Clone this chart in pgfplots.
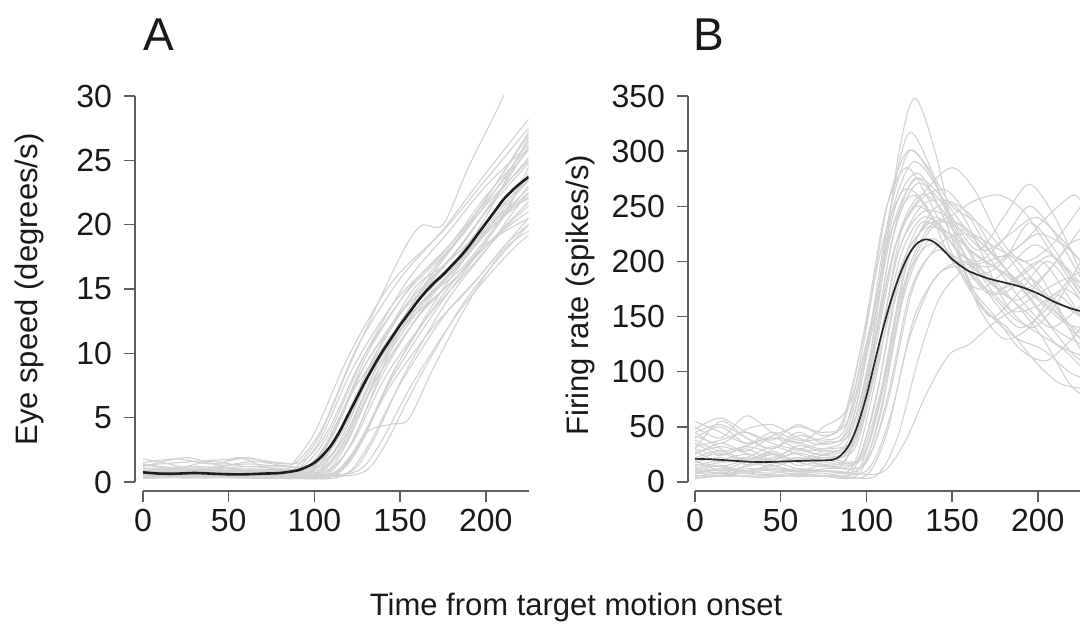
\documentclass[border=0pt]{standalone}
\usepackage{pgfplots}
\pgfplotsset{compat=1.18}
\usepackage{fontspec}
\setmainfont{Liberation Sans}
\definecolor{tr}{RGB}{210,210,210}
\definecolor{axc}{RGB}{95,95,95}
\definecolor{txt}{RGB}{25,25,25}
\pgfplotsset{
  panel/.style={
    scale only axis, anchor=south west,
    axis x line*=bottom, axis y line*=left,
    axis line style={axc, line width=0.75pt},
    tick style={axc, line width=0.75pt},
    tick align=outside, major tick length=5.5pt,
    xtick={0,50,100,150,200},
    tick label style={font=\fontsize{16}{19}\selectfont, text=txt},
    yticklabel style={xshift=-2.5pt},
    /pgf/number format/assume math mode=true,
    height=197.5pt,
    clip=true,
  },
  trace/.style={tr, line width=0.55pt, smooth, no markers},
}
\begin{document}
\begin{tikzpicture}
% ---------------- Panel A ----------------
\begin{axis}[panel,
  at={(67.5pt,66pt)}, width=196.8pt,
  xmin=-4.7, xmax=225, ymin=-0.7, ymax=30,
  ytick={0,5,...,30},
  x axis line style={shorten <=4pt},
  y axis line style={shorten <=4.5pt},
  every axis y label/.style={at={(axis description cs:-0.267,0.51)}, rotate=90, anchor=center, font=\fontsize{15.5}{18}\selectfont, text=txt},
  ylabel={Eye speed (degrees/s)},
]
\addplot[trace] coordinates {(0,1.1)(30,0.9)(60,1.2)(80,1.0)(85,1.1)(100,3.8)(120,9.8)(145,15.5)(175,19.5)(200,23.5)(225,27.5)};
\addplot[trace] coordinates {(0,0.5)(30,0.7)(60,0.5)(80,0.6)(88,0.7)(103,3.2)(123,9.0)(148,14.2)(175,17.8)(200,21.8)(225,25.8)};
\addplot[trace] coordinates {(0,1.3)(30,1.6)(60,1.8)(80,1.5)(90,1.6)(105,4.3)(125,10.5)(150,15.8)(175,19.6)(200,24.0)(225,28.2)};
\addplot[trace] coordinates {(0,0.4)(30,0.5)(60,0.6)(80,0.5)(92,0.6)(107,2.9)(127,8.5)(152,13.4)(180,16.9)(200,20.2)(225,23.5)};
\addplot[trace] coordinates {(0,0.9)(30,0.8)(60,1.0)(80,0.9)(88,1.0)(103,3.6)(123,9.8)(150,17.5)(162,19.9)(175,20.0)(190,24.5)(205,28.5)(212,30.5)};
\addplot[trace] coordinates {(0,0.8)(30,0.6)(60,0.7)(80,0.8)(95,0.9)(110,3.4)(130,9.2)(155,14.0)(180,17.5)(200,21.0)(225,24.8)};
\addplot[trace] coordinates {(0,0.9)(30,1.1)(60,0.8)(80,0.9)(97,1.0)(112,3.3)(132,8.8)(157,13.5)(180,16.6)(200,19.6)(225,22.8)};
\addplot[trace] coordinates {(0,0.3)(30,0.4)(60,0.5)(80,0.4)(100,0.6)(115,3.2)(135,9.0)(160,14.4)(185,18.3)(205,22.0)(225,25.2)};
\addplot[trace] coordinates {(0,1.3)(30,1.0)(60,1.4)(80,1.2)(100,1.3)(115,3.6)(135,8.9)(160,13.6)(185,17.0)(205,20.0)(225,22.5)};
\addplot[trace] coordinates {(0,0.6)(30,0.8)(60,0.6)(80,0.5)(103,0.7)(118,3.0)(138,8.4)(163,13.3)(185,16.2)(205,19.0)(225,21.5)};
\addplot[trace] coordinates {(0,0.5)(30,0.4)(60,0.6)(80,0.5)(105,0.6)(120,3.3)(140,9.4)(165,15.0)(185,18.2)(205,22.0)(225,26.0)};
\addplot[trace] coordinates {(0,0.7)(30,0.9)(60,0.8)(80,0.7)(107,0.9)(122,3.0)(142,8.3)(167,13.0)(190,16.5)(210,19.5)(225,21.0)};
\addplot[trace] coordinates {(0,0.4)(30,0.5)(60,0.4)(80,0.4)(110,0.5)(125,2.8)(145,8.0)(170,13.2)(190,16.8)(210,20.5)(225,23.0)};
\addplot[trace] coordinates {(0,0.5)(30,0.6)(60,0.7)(80,0.6)(112,0.7)(127,3.1)(147,8.8)(172,14.0)(195,17.8)(212,21.0)(225,24.5)};
\addplot[trace] coordinates {(0,0.3)(30,0.4)(60,0.3)(80,0.3)(115,0.4)(130,2.5)(150,7.6)(175,12.8)(195,15.8)(212,18.5)(225,20.0)};
\addplot[trace] coordinates {(0,0.6)(30,0.5)(60,0.4)(80,0.5)(118,0.6)(133,2.9)(153,8.5)(178,14.2)(200,18.0)(215,20.8)(225,22.5)};
\addplot[trace] coordinates {(0,0.4)(30,0.5)(60,0.5)(80,0.4)(112,0.5)(130,3.8)(145,4.5)(155,4.9)(170,9.0)(190,14.0)(210,18.0)(225,19.5)};
\addplot[trace] coordinates {(0,0.6)(30,0.7)(60,0.5)(80,0.6)(122,0.7)(137,2.7)(157,7.6)(182,12.8)(200,15.8)(215,18.0)(225,19.2)};
\addplot[trace] coordinates {(0,1.5)(20,1.8)(40,1.4)(60,1.9)(75,1.5)(93,1.6)(108,4.0)(128,9.6)(153,14.6)(178,18.0)(200,21.5)(225,25.0)};
\addplot[trace] coordinates {(0,0.6)(30,0.5)(60,0.5)(80,0.6)(98,0.7)(113,3.3)(133,9.3)(158,15.0)(175,16.8)(195,19.5)(225,26.8)};
\addplot[trace] coordinates {(0,1.0)(30,1.2)(60,1.0)(80,1.0)(102,1.1)(117,3.4)(137,9.0)(162,13.8)(185,16.5)(205,19.8)(225,24.0)};
\addplot[trace] coordinates {(0,0.8)(30,0.7)(60,0.9)(80,0.7)(108,0.8)(123,3.4)(143,9.8)(168,16.0)(190,19.8)(210,23.5)(225,26.5)};
\addplot[trace] coordinates {(0,0.5)(30,0.6)(60,0.5)(80,0.5)(95,0.6)(110,2.9)(130,8.0)(155,12.5)(180,15.5)(200,18.5)(225,20.5)};
\addplot[trace] coordinates {(0,0.5)(30,0.5)(60,0.6)(80,0.5)(125,0.6)(140,2.6)(160,7.8)(185,13.5)(205,17.0)(225,20.0)};
\addplot[trace] coordinates {(0,1.8)(15,1.4)(35,0.9)(55,1.9)(70,1.2)(85,1.0)(104,1.0)(119,3.6)(139,9.8)(164,15.3)(185,19.0)(205,23.0)(225,27.0)};
\addplot[trace] coordinates {(0,0.3)(30,0.4)(60,0.3)(80,0.3)(90,0.4)(105,2.6)(125,7.6)(150,12.2)(175,15.6)(200,19.4)(225,22.2)};
\addplot[trace] coordinates {(0,0.7)(25,1.0)(50,0.8)(75,0.9)(96,1.0)(111,3.8)(131,10.0)(156,15.2)(180,18.6)(200,22.2)(225,26.0)};
\addplot[trace] coordinates {(0,1.2)(25,1.9)(45,1.3)(65,1.6)(85,1.2)(101,1.2)(116,3.2)(136,8.4)(161,13.4)(185,17.2)(205,20.6)(225,23.8)};
\addplot[trace] coordinates {(0,0.4)(30,0.3)(60,0.4)(80,0.4)(106,0.5)(121,2.9)(141,8.7)(166,14.0)(188,17.4)(208,20.8)(225,22.0)};
\addplot[trace] coordinates {(0,0.9)(30,0.7)(60,0.8)(80,0.8)(99,0.9)(114,3.5)(134,9.5)(159,14.8)(183,18.8)(205,23.0)(225,27.2)};
\addplot[trace] coordinates {(0,0.6)(30,0.6)(60,0.7)(80,0.6)(113,0.7)(128,3.2)(148,9.0)(173,14.6)(195,18.6)(212,21.5)(225,23.4)};
\addplot[trace] coordinates {(0,0.5)(30,0.6)(60,0.5)(80,0.5)(109,0.6)(124,2.6)(144,7.4)(169,12.0)(190,15.0)(210,18.2)(225,20.5)};
\addplot[trace] coordinates {(0,1.4)(20,1.1)(40,1.6)(60,1.2)(80,1.3)(94,1.3)(109,3.9)(129,9.8)(154,15.6)(178,19.4)(200,23.0)(225,26.2)};
\addplot[trace] coordinates {(0,0.5)(30,0.5)(60,0.5)(80,0.5)(101,0.6)(116,2.8)(136,8.0)(161,12.9)(185,16.2)(205,19.0)(225,21.8)};
% mean
\addplot[color={rgb,255:red,30;green,30;blue,30}, line width=1.3pt, smooth, no markers] coordinates {
(0,0.75)(10,0.65)(20,0.65)(30,0.7)(40,0.65)(50,0.6)(60,0.6)(70,0.65)(80,0.7)(90,0.9)(95,1.15)(100,1.5)(105,2.1)(110,2.9)(115,4.0)(120,5.3)(125,6.6)(130,7.9)(135,9.1)(140,10.2)(145,11.2)(150,12.2)(155,13.1)(160,14.0)(165,14.8)(170,15.5)(175,16.1)(180,16.8)(185,17.5)(190,18.3)(195,19.2)(200,20.1)(205,21.0)(210,21.9)(215,22.6)(220,23.2)(225,23.7)};
\end{axis}
% ---------------- Panel B ----------------
\begin{axis}[panel,
  at={(344pt,66pt)}, width=196pt,
  xmin=-4.1, xmax=224.6, ymin=-8.2, ymax=350,
  ytick={0,50,...,350},
  x axis line style={shorten <=3.5pt},
  y axis line style={shorten <=4.5pt},
  every axis y label/.style={at={(axis description cs:-0.2755,0.496)}, rotate=90, anchor=center, font=\fontsize{15.5}{18}\selectfont, text=txt},
  ylabel={Firing rate (spikes/s)},
]
\addplot[trace] coordinates {(0,45)(15,30)(30,20)(45,25)(60,20)(75,25)(90,40)(105,140)(118,290)(128,348)(140,300)(152,220)(165,160)(180,130)(195,140)(210,170)(225,150)};
\addplot[trace] coordinates {(0,10)(15,15)(30,8)(45,12)(60,10)(75,12)(88,20)(100,90)(112,230)(124,315)(136,290)(150,230)(165,190)(180,200)(195,235)(210,210)(225,170)};
\addplot[trace] coordinates {(0,30)(15,55)(30,40)(45,30)(60,45)(75,35)(88,45)(100,120)(113,240)(125,300)(137,280)(150,240)(165,210)(180,240)(195,270)(210,240)(225,190)};
\addplot[trace] coordinates {(0,15)(15,20)(30,25)(45,18)(60,22)(75,15)(90,25)(102,100)(115,220)(128,275)(142,250)(158,190)(172,150)(188,170)(205,200)(218,180)(225,165)};
\addplot[trace] coordinates {(0,50)(15,40)(30,60)(45,45)(60,35)(75,50)(90,70)(105,160)(117,250)(130,280)(145,240)(160,180)(175,150)(190,120)(205,110)(220,130)(225,140)};
\addplot[trace] coordinates {(0,5)(15,8)(30,5)(45,6)(60,8)(75,6)(92,10)(105,70)(118,180)(132,235)(148,220)(162,185)(178,170)(195,185)(210,160)(225,120)};
\addplot[trace] coordinates {(0,25)(15,35)(30,28)(45,40)(60,30)(75,25)(92,35)(106,110)(120,225)(135,265)(150,285)(163,265)(178,220)(192,200)(208,215)(225,250)};
\addplot[trace] coordinates {(0,20)(15,10)(30,15)(45,25)(60,15)(75,20)(95,20)(108,80)(122,190)(138,245)(152,250)(165,215)(180,165)(196,140)(210,160)(225,200)};
\addplot[trace] coordinates {(0,8)(15,12)(30,10)(45,8)(60,12)(75,10)(96,12)(108,60)(122,170)(137,220)(152,200)(166,160)(182,140)(198,110)(212,90)(225,85)};
\addplot[trace] coordinates {(0,40)(15,50)(30,35)(45,45)(60,38)(75,40)(86,55)(98,130)(110,220)(122,265)(135,250)(150,200)(165,175)(180,190)(198,215)(215,195)(225,175)};
\addplot[trace] coordinates {(0,12)(15,18)(30,22)(45,15)(60,10)(75,15)(98,15)(112,70)(127,175)(142,215)(158,225)(172,210)(188,180)(203,150)(218,120)(225,110)};
\addplot[trace] coordinates {(0,6)(20,5)(40,7)(60,5)(80,6)(105,5)(118,40)(130,110)(142,165)(155,190)(170,200)(185,205)(200,190)(215,150)(225,130)};
\addplot[trace] coordinates {(0,10)(20,8)(40,12)(60,9)(80,10)(108,8)(122,35)(135,80)(148,115)(160,125)(175,145)(190,160)(205,175)(218,185)(225,180)};
\addplot[trace] coordinates {(0,35)(15,25)(30,30)(45,20)(60,28)(75,30)(90,45)(103,140)(115,245)(127,290)(140,270)(155,220)(170,200)(185,185)(200,165)(215,145)(225,140)};
\addplot[trace] coordinates {(0,18)(15,22)(30,16)(45,20)(60,26)(75,22)(93,30)(105,100)(118,205)(132,250)(147,255)(162,240)(178,200)(192,175)(208,195)(225,230)};
\addplot[trace] coordinates {(0,28)(15,18)(30,22)(45,32)(60,25)(75,20)(90,30)(103,110)(116,210)(129,250)(143,230)(158,180)(173,150)(188,130)(203,120)(218,100)(225,95)};
\addplot[trace] coordinates {(0,14)(15,10)(30,18)(45,14)(60,20)(75,16)(94,18)(106,80)(119,180)(133,230)(148,240)(163,255)(178,260)(192,245)(207,210)(225,170)};
\addplot[trace] coordinates {(0,45)(15,52)(30,40)(45,30)(60,42)(75,38)(88,50)(100,140)(112,250)(124,300)(136,285)(150,250)(165,235)(180,210)(195,180)(210,165)(225,150)};
\addplot[trace] coordinates {(0,22)(15,28)(30,20)(45,28)(60,18)(75,22)(97,22)(110,90)(124,200)(139,240)(155,220)(170,180)(185,155)(200,160)(215,175)(225,165)};
\addplot[trace] coordinates {(0,7)(15,12)(30,9)(45,14)(60,10)(75,8)(95,10)(108,75)(121,175)(136,215)(151,205)(166,190)(181,170)(196,150)(211,125)(225,115)};
\addplot[trace] coordinates {(0,32)(15,38)(30,45)(45,35)(60,30)(75,36)(91,45)(104,125)(117,215)(131,255)(146,265)(160,240)(175,205)(190,215)(205,240)(220,260)(225,255)};
\addplot[trace] coordinates {(0,16)(15,14)(30,20)(45,26)(60,18)(75,14)(99,16)(112,75)(126,175)(141,210)(157,195)(172,170)(187,185)(202,200)(217,170)(225,150)};
\addplot[trace] coordinates {(0,55)(15,45)(30,35)(45,42)(60,50)(75,45)(89,55)(101,130)(114,225)(127,260)(141,235)(156,205)(171,195)(186,210)(200,225)(215,215)(225,200)};
\addplot[trace] coordinates {(0,9)(15,6)(30,12)(45,10)(60,7)(75,10)(100,10)(114,60)(128,150)(143,190)(158,200)(173,185)(188,160)(203,130)(218,90)(225,80)};
\addplot[trace] coordinates {(0,26)(15,32)(30,26)(45,20)(60,33)(75,28)(92,38)(105,120)(118,220)(131,260)(145,245)(159,200)(174,165)(189,140)(204,155)(219,185)(225,190)};
\addplot[trace] coordinates {(0,38)(15,28)(30,33)(45,40)(60,36)(75,30)(94,40)(107,110)(120,195)(134,230)(149,225)(164,205)(179,190)(194,170)(209,140)(225,125)};
\addplot[trace] coordinates {(0,48)(15,58)(30,45)(45,38)(60,52)(75,42)(87,55)(99,140)(111,245)(123,285)(135,260)(150,215)(165,200)(180,220)(195,250)(210,225)(225,185)};
\addplot[trace] coordinates {(0,4)(15,6)(30,8)(45,5)(60,6)(75,5)(96,8)(109,70)(123,180)(138,230)(153,235)(168,215)(183,190)(198,170)(213,150)(225,135)};
\addplot[trace] coordinates {(0,20)(15,26)(30,18)(45,22)(60,30)(75,24)(90,32)(103,115)(116,225)(129,270)(143,255)(158,215)(173,180)(188,165)(203,185)(218,215)(225,220)};
\addplot[trace] coordinates {(0,12)(15,8)(30,14)(45,18)(60,12)(75,10)(92,14)(105,90)(119,200)(133,240)(148,225)(163,195)(178,175)(193,190)(208,205)(225,180)};
\addplot[trace] coordinates {(0,42)(15,35)(30,48)(45,52)(60,40)(75,34)(90,48)(103,135)(116,235)(129,275)(143,260)(158,230)(173,215)(188,200)(203,170)(218,140)(225,130)};
\addplot[trace] coordinates {(0,3)(20,6)(40,4)(60,7)(80,5)(100,6)(112,45)(125,130)(140,185)(155,195)(170,175)(185,150)(200,135)(215,120)(225,105)};
\addplot[trace] coordinates {(0,30)(15,24)(30,32)(45,26)(60,20)(75,28)(93,34)(106,115)(119,210)(133,245)(148,240)(163,220)(178,190)(193,160)(208,140)(225,160)};
\addplot[trace] coordinates {(0,18)(15,14)(30,10)(45,16)(60,22)(75,18)(97,20)(110,85)(124,190)(139,235)(154,230)(169,210)(184,225)(199,240)(214,220)(225,200)};
% mean
\addplot[color={rgb,255:red,40;green,40;blue,40}, line width=0.85pt, smooth, no markers] coordinates {
(0,21)(10,20.5)(20,19.5)(30,18.5)(40,18)(50,18.5)(60,19)(70,19.5)(80,20)(85,24)(90,34)(95,52)(100,78)(105,110)(110,141)(115,168)(120,190)(125,207)(130,217)(135,220)(140,217)(145,210)(150,202)(155,196)(160,191)(170,185)(180,181)(190,177)(200,171)(210,163)(220,157)(225,155)};
\end{axis}
% panel letters and common label
\node[anchor=base, font=\fontsize{23}{27}\selectfont, text=txt] at (79.5pt,286.5pt) {A};
\node[anchor=base, font=\fontsize{23}{27}\selectfont, text=txt] at (354.5pt,286.5pt) {B};
\node[anchor=base, font=\fontsize{15.5}{18}\selectfont, text=txt] at (288pt,4pt) {Time from target motion onset};
\pgfresetboundingbox
\useasboundingbox (0,0) rectangle (540pt,311.5pt);
\end{tikzpicture}
\end{document}
